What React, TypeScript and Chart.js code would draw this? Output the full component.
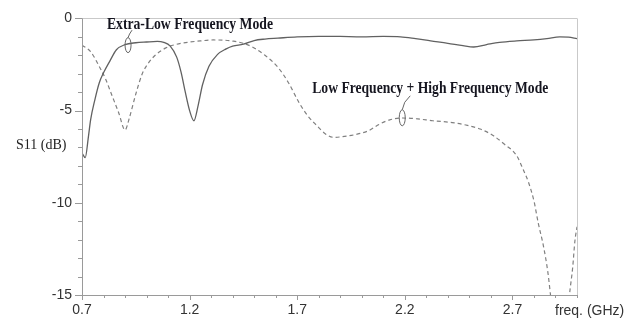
import React, { useEffect, useRef } from "react";
import { Chart, registerables } from "chart.js";

Chart.register(...registerables);

// ---- Data ----
const freqExtraLow = [
  0.7, 0.715, 0.73, 0.74, 0.76, 0.78, 0.8, 0.83, 0.86, 0.9, 0.95, 1.0, 1.05, 1.08,
  1.11, 1.14, 1.16, 1.18, 1.2, 1.22, 1.24, 1.26, 1.29, 1.33, 1.37, 1.4, 1.45, 1.5,
  1.55, 1.61, 1.7, 1.8, 1.9, 2.0, 2.1, 2.18, 2.25, 2.32, 2.4, 2.47, 2.52, 2.58,
  2.64, 2.72, 2.8, 2.86, 2.92, 2.96, 3.0,
];
const s11ExtraLow = [
  -7.3, -7.55, -6.4, -5.5, -4.4, -3.5, -2.95, -2.3, -1.7, -1.42, -1.32, -1.28, -1.25, -1.3,
  -1.5, -2.1, -2.9, -4.0, -5.0, -5.55, -4.7, -3.6, -2.6, -1.95, -1.65, -1.5, -1.4, -1.2,
  -1.12, -1.07, -1.0, -0.97, -0.98, -1.0, -0.98, -1.0, -1.1, -1.22, -1.35, -1.48, -1.55, -1.42,
  -1.3, -1.22, -1.17, -1.1, -1.0, -1.02, -1.1,
];

const freqLowHigh = [
  0.7, 0.74, 0.78, 0.81, 0.84, 0.87, 0.9, 0.92, 0.95, 0.98, 1.01, 1.04, 1.09, 1.14,
  1.19, 1.25, 1.31, 1.36, 1.4, 1.45, 1.5, 1.55, 1.61, 1.66, 1.71, 1.75, 1.79, 1.83,
  1.87, 1.92, 1.97, 2.03, 2.08, 2.13, 2.19, 2.26, 2.33, 2.42, 2.49, 2.55, 2.61, 2.66,
  2.72, 2.75, 2.775, 2.8, 2.82, 2.845, 2.865, 2.88, 2.9, 2.93, 2.95, 2.965, 2.98, 2.99, 3.0,
];
const s11LowHigh = [
  -1.45, -1.8, -2.6, -3.3, -4.2, -5.1, -6.05, -5.4, -4.1, -3.0, -2.4, -2.0, -1.6, -1.4,
  -1.3, -1.22, -1.17, -1.18, -1.23, -1.35, -1.6, -2.0, -2.65, -3.5, -4.6, -5.3, -5.8, -6.25,
  -6.45, -6.4, -6.3, -6.1, -5.75, -5.5, -5.4, -5.45, -5.55, -5.65, -5.8, -6.0, -6.35, -6.8,
  -7.45, -8.2, -8.9, -9.9, -11.1, -12.4, -13.8, -15.3, -17, -18, -17, -15, -13.5, -12.1, -11.3,
];

const xTickValues = [0.7, 1.2, 1.7, 2.2, 2.7];
const yTickValues = [0, -5, -10, -15];
const xMinorStep = 0.1;
const yMinorStep = 1;

const seriesNames = ["Extra-Low Frequency Mode", "Low Frequency + High Frequency Mode"];
const yAxisTitle = "S11 (dB)";
const xAxisTitle = "freq. (GHz)";

// ---- Annotation placement (data coordinates) ----
const annotationStyle = {
  labels: [
    { text: seriesNames[0], x: 0.816, y: -0.59, font: "bold 16px 'Liberation Serif'", width: 166 },
    { text: seriesNames[1], x: 1.77, y: -4.06, font: "bold 17px 'Liberation Serif'", width: 236 },
  ],
  ellipses: [
    { x: 0.914, y: -1.45, rx: 3, ry: 7.5, lead: [[0, -7.5], [1, -11], [4, -15]] },
    { x: 2.188, y: -5.39, rx: 3, ry: 8, lead: [[0, -8], [1, -16], [8, -22]] },
  ],
};

const overlayPlugin = {
  id: "overlay",
  afterDatasetsDraw(chart: any) {
    const { ctx, chartArea, scales } = chart;
    const { left, right, top, bottom } = chartArea;
    const x = scales.x;
    const y = scales.y;
    ctx.save();
    ctx.lineWidth = 1;
    // frame
    ctx.strokeStyle = "#c9c9c9";
    ctx.beginPath();
    ctx.moveTo(left, Math.round(top) + 0.5);
    ctx.lineTo(right, Math.round(top) + 0.5);
    ctx.moveTo(Math.round(right) + 0.5, top);
    ctx.lineTo(Math.round(right) + 0.5, bottom);
    ctx.stroke();
    ctx.strokeStyle = "#9a9a9a";
    ctx.beginPath();
    ctx.moveTo(Math.round(left) + 0.5, top);
    ctx.lineTo(Math.round(left) + 0.5, bottom);
    ctx.moveTo(left, Math.round(bottom) + 0.5);
    ctx.lineTo(right, Math.round(bottom) + 0.5);
    ctx.stroke();
    // ticks
    ctx.beginPath();
    const yMin = y.min, yMax = y.max;
    for (let i = 0; yMin + i * yMinorStep <= yMax + 1e-9; i++) {
      const v = yMin + i * yMinorStep;
      const py = Math.round(y.getPixelForValue(v)) + 0.5;
      const major = yTickValues.some((t) => Math.abs(t - v) < 1e-6);
      const len = major ? 7 : 4;
      ctx.moveTo(left - len, py);
      ctx.lineTo(left, py);
    }
    const xMin = x.min, xMax = x.max;
    for (let i = 0; xMin + i * xMinorStep <= xMax + 1e-9; i++) {
      const v = xMin + i * xMinorStep;
      const px = Math.round(x.getPixelForValue(v)) + 0.5;
      const major = xTickValues.some((t) => Math.abs(t - v) < 1e-6);
      const len = major ? 5 : 3;
      ctx.moveTo(px, bottom);
      ctx.lineTo(px, bottom + len);
    }
    ctx.stroke();

    // axis titles
    ctx.fillStyle = "#222";
    ctx.font = "14px 'Liberation Serif'";
    ctx.textAlign = "left";
    ctx.textBaseline = "alphabetic";
    ctx.fillText(yAxisTitle, 16, y.getPixelForValue(-7.1));
    ctx.fillStyle = "#333";
    ctx.font = "14px 'Liberation Sans'";
    ctx.fillText(xAxisTitle, right - 22, bottom + 20);

    // annotation labels
    ctx.fillStyle = "#15151f";
    for (const l of annotationStyle.labels) {
      ctx.font = l.font;
      const w = ctx.measureText(l.text).width;
      const px = x.getPixelForValue(l.x);
      const py = y.getPixelForValue(l.y);
      ctx.save();
      ctx.translate(px, py);
      ctx.scale(l.width / w, 1);
      ctx.fillText(l.text, 0, 0);
      ctx.restore();
    }
    // ellipses + leaders
    ctx.strokeStyle = "#666";
    ctx.lineWidth = 1;
    for (const e of annotationStyle.ellipses) {
      const cx = x.getPixelForValue(e.x);
      const cy = y.getPixelForValue(e.y);
      ctx.beginPath();
      ctx.ellipse(cx, cy, e.rx, e.ry, 0, 0, Math.PI * 2);
      ctx.stroke();
      ctx.beginPath();
      ctx.moveTo(cx + e.lead[0][0], cy + e.lead[0][1]);
      ctx.quadraticCurveTo(cx + e.lead[1][0], cy + e.lead[1][1], cx + e.lead[2][0], cy + e.lead[2][1]);
      ctx.stroke();
    }
    ctx.restore();
  },
};

export default function App() {
  const canvasRef = useRef<HTMLCanvasElement | null>(null);

  useEffect(() => {
    if (!canvasRef.current) return;
    const chart = new Chart(canvasRef.current, {
      type: "line",
      data: {
        datasets: [
          {
            label: seriesNames[0],
            data: freqExtraLow.map((f, i) => ({ x: f, y: s11ExtraLow[i] })),
            borderColor: "#616161",
            borderWidth: 1.3,
            pointRadius: 0,
            cubicInterpolationMode: "monotone",
            fill: false,
          },
          {
            label: seriesNames[1],
            data: freqLowHigh.map((f, i) => ({ x: f, y: s11LowHigh[i] })),
            borderColor: "#808080",
            borderWidth: 1.2,
            borderDash: [4, 3],
            pointRadius: 0,
            cubicInterpolationMode: "monotone",
            fill: false,
          },
        ],
      },
      options: {
        animation: false,
        responsive: true,
        maintainAspectRatio: false,
        layout: { padding: { left: 0, right: 58, top: 14, bottom: 0 } },
        plugins: { legend: { display: false }, tooltip: { enabled: false } },
        scales: {
          x: {
            type: "linear",
            min: 0.7,
            max: 3.0,
            grid: { display: false, drawTicks: false },
            border: { display: false },
            afterBuildTicks: (scale: any) => {
              scale.ticks = xTickValues.map((v) => ({ value: v }));
            },
            afterFit: (scale: any) => {
              scale.height = 25;
            },
            ticks: {
              autoSkip: false,
              maxRotation: 0,
              padding: 7,
              color: "#333",
              font: { family: "'Liberation Sans'", size: 14 },
              callback: (v: any) => Number(v).toFixed(1),
            },
          },
          y: {
            type: "linear",
            min: -15,
            max: 0,
            grid: { display: false, drawTicks: false },
            border: { display: false },
            afterBuildTicks: (scale: any) => {
              scale.ticks = yTickValues.map((v) => ({ value: v }));
            },
            afterFit: (scale: any) => {
              scale.width = 82;
            },
            ticks: {
              padding: 10,
              color: "#333",
              font: { family: "'Liberation Sans'", size: 14 },
              callback: (v: any) => String(v),
            },
          },
        },
      },
      plugins: [overlayPlugin],
    } as any);
    return () => chart.destroy();
  }, []);

  return (
    <div style={{ position: "fixed", left: 0, top: 0, width: 635, height: 320, background: "#fff" }}>
      <canvas ref={canvasRef} />
    </div>
  );
}
